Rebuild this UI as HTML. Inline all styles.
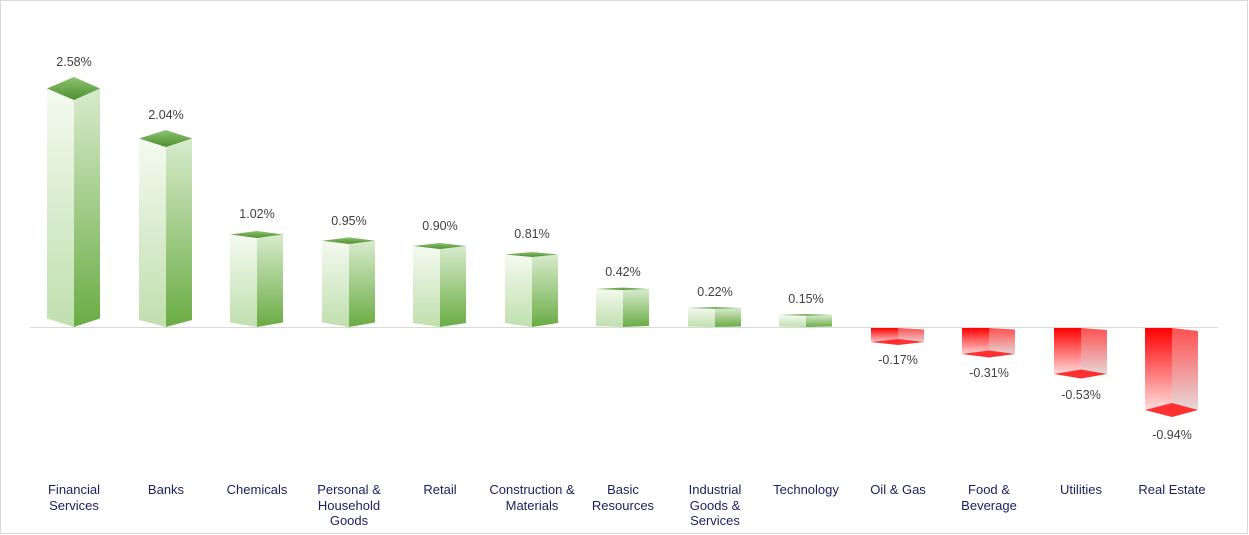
<!DOCTYPE html>
<html><head><meta charset="utf-8"><style>
html,body{margin:0;padding:0;background:#fff}
svg{display:block}
text{font-family:"Liberation Sans",sans-serif}
.v{font-size:12.5px;fill:#404040;text-anchor:middle}
.c{font-size:13px;fill:#1a1f5e;text-anchor:middle}
</style></head><body>
<svg width="1249" height="535" viewBox="0 0 1249 535" xmlns="http://www.w3.org/2000/svg">
<defs>
<linearGradient id="gl" x1="0" y1="0" x2="0" y2="1"><stop offset="0" stop-color="#f4faf0"/><stop offset="1" stop-color="#c0dfae"/></linearGradient>
<linearGradient id="gr" x1="0" y1="0" x2="0" y2="1"><stop offset="0" stop-color="#d8ebcd"/><stop offset="1" stop-color="#6aac44"/></linearGradient>
<linearGradient id="gt" x1="0" y1="0" x2="0" y2="1"><stop offset="0" stop-color="#8cc270"/><stop offset="1" stop-color="#4e8f30"/></linearGradient>
<linearGradient id="rl" x1="0" y1="0" x2="0" y2="1"><stop offset="0" stop-color="#ff0000"/><stop offset="1" stop-color="#fff0f0"/></linearGradient>
<linearGradient id="rr" x1="0" y1="0" x2="0" y2="1"><stop offset="0" stop-color="#ff5050"/><stop offset="1" stop-color="#e4e4e4"/></linearGradient>
</defs>
<rect x="0.5" y="0.5" width="1247" height="533" fill="#fff" stroke="#d9d9d9"/>
<line x1="30" y1="327.5" x2="1218" y2="327.5" stroke="#d9d9d9" stroke-width="1"/>

<!-- positive bars -->
<g transform="translate(74,0)">
<polygon points="-27,88.5 0,100 0,327 -27,318.5" fill="url(#gl)"/><polygon points="0,100 26,88.5 26,318.5 0,327" fill="url(#gr)"/><polygon points="-27,88.5 0,77 26,88.5 0,100" fill="url(#gt)"/>
<text class="v" x="0" y="66">2.58%</text></g>
<g transform="translate(166,0)">
<polygon points="-27,138.5 0,147 0,327 -27,320" fill="url(#gl)"/><polygon points="0,147 26,138.5 26,320 0,327" fill="url(#gr)"/><polygon points="-27,138.5 0,130 26,138.5 0,147" fill="url(#gt)"/>
<text class="v" x="0" y="119">2.04%</text></g>
<g transform="translate(257,0)">
<polygon points="-27,234.5 0,238 0,327 -27,322.5" fill="url(#gl)"/><polygon points="0,238 26,234.5 26,322.5 0,327" fill="url(#gr)"/><polygon points="-27,234.5 0,231 26,234.5 0,238" fill="url(#gt)"/>
<text class="v" x="0" y="218">1.02%</text></g>
<g transform="translate(349,0)">
<polygon points="-27,240.7 0,244 0,327 -27,322.5" fill="url(#gl)"/><polygon points="0,244 26,240.7 26,322.5 0,327" fill="url(#gr)"/><polygon points="-27,240.7 0,237.4 26,240.7 0,244" fill="url(#gt)"/>
<text class="v" x="0" y="225">0.95%</text></g>
<g transform="translate(440,0)">
<polygon points="-27,246 0,249 0,327 -27,323" fill="url(#gl)"/><polygon points="0,249 26,246 26,323 0,327" fill="url(#gr)"/><polygon points="-27,246 0,243 26,246 0,249" fill="url(#gt)"/>
<text class="v" x="0" y="230">0.90%</text></g>
<g transform="translate(532,0)">
<polygon points="-27,254.5 0,257 0,327 -27,323" fill="url(#gl)"/><polygon points="0,257 26,254.5 26,323 0,327" fill="url(#gr)"/><polygon points="-27,254.5 0,252 26,254.5 0,257" fill="url(#gt)"/>
<text class="v" x="0" y="238">0.81%</text></g>
<g transform="translate(623,0)">
<polygon points="-27,289 0,290 0,327 -27,326" fill="url(#gl)"/><polygon points="0,290 26,289 26,326 0,327" fill="url(#gr)"/><polygon points="-27,289 0,287.5 26,289 0,290" fill="url(#gt)"/>
<text class="v" x="0" y="276">0.42%</text></g>
<g transform="translate(715,0)">
<polygon points="-27,308 0,308.8 0,327 -27,326.5" fill="url(#gl)"/><polygon points="0,308.8 26,308 26,326.5 0,327" fill="url(#gr)"/><polygon points="-27,308 0,307 26,308 0,308.8" fill="url(#gt)"/>
<text class="v" x="0" y="296">0.22%</text></g>
<g transform="translate(806,0)">
<polygon points="-27,315 0,315.6 0,327 -27,326.5" fill="url(#gl)"/><polygon points="0,315.6 26,315 26,326.5 0,327" fill="url(#gr)"/><polygon points="-27,315 0,314 26,315 0,315.6" fill="url(#gt)"/>
<text class="v" x="0" y="303">0.15%</text></g>

<!-- negative bars -->
<g transform="translate(898,0)">
<polygon points="-27,328 0,328 0,345 -27,342" fill="url(#rl)"/><polygon points="0,328 26,329.5 26,342 0,345" fill="url(#rr)"/><polygon points="-27,342 0,339 26,342 0,345" fill="#ff3030"/>
<text class="v" x="0" y="364">-0.17%</text></g>
<g transform="translate(989,0)">
<polygon points="-27,328 0,328 0,357.5 -27,354" fill="url(#rl)"/><polygon points="0,328 26,329.5 26,354 0,357.5" fill="url(#rr)"/><polygon points="-27,354 0,350.5 26,354 0,357.5" fill="#ff3030"/>
<text class="v" x="0" y="377">-0.31%</text></g>
<g transform="translate(1081,0)">
<polygon points="-27,328 0,328 0,378.5 -27,374" fill="url(#rl)"/><polygon points="0,328 26,330 26,374 0,378.5" fill="url(#rr)"/><polygon points="-27,374 0,369.5 26,374 0,378.5" fill="#ff3030"/>
<text class="v" x="0" y="399">-0.53%</text></g>
<g transform="translate(1172,0)">
<polygon points="-27,328 0,328 0,417 -27,410" fill="url(#rl)"/><polygon points="0,328 26,331 26,410 0,417" fill="url(#rr)"/><polygon points="-27,410 0,403 26,410 0,417" fill="#ff3030"/>
<text class="v" x="0" y="439">-0.94%</text></g>

<!-- category labels -->
<text class="c" x="74" y="494">Financial</text><text class="c" x="74" y="510">Services</text>
<text class="c" x="166" y="494">Banks</text>
<text class="c" x="257" y="494">Chemicals</text>
<text class="c" x="349" y="494">Personal &amp;</text><text class="c" x="349" y="510">Household</text><text class="c" x="349" y="525">Goods</text>
<text class="c" x="440" y="494">Retail</text>
<text class="c" x="532" y="494">Construction &amp;</text><text class="c" x="532" y="510">Materials</text>
<text class="c" x="623" y="494">Basic</text><text class="c" x="623" y="510">Resources</text>
<text class="c" x="715" y="494">Industrial</text><text class="c" x="715" y="510">Goods &amp;</text><text class="c" x="715" y="525">Services</text>
<text class="c" x="806" y="494">Technology</text>
<text class="c" x="898" y="494">Oil &amp; Gas</text>
<text class="c" x="989" y="494">Food &amp;</text><text class="c" x="989" y="510">Beverage</text>
<text class="c" x="1081" y="494">Utilities</text>
<text class="c" x="1172" y="494">Real Estate</text>
</svg>
</body></html>
